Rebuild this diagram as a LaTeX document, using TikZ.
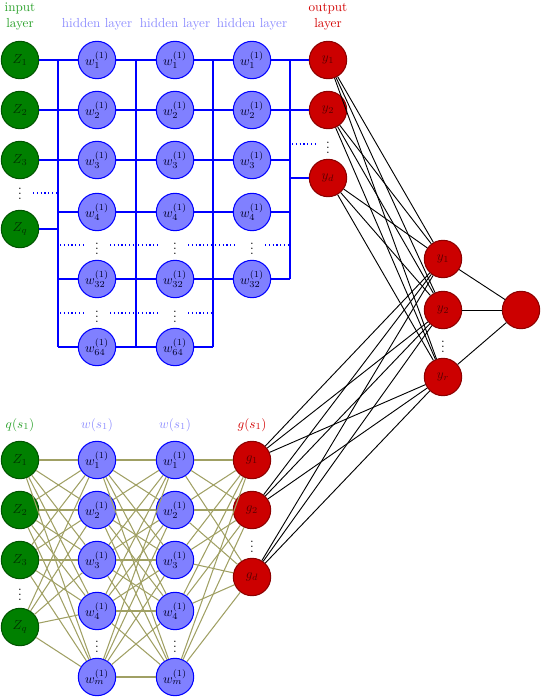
\documentclass[tikz,border=0pt]{standalone}
\usetikzlibrary{calc}
\definecolor{gfill}{RGB}{0,128,0}
\definecolor{gdraw}{RGB}{0,85,0}
\definecolor{ghead}{RGB}{40,160,40}
\definecolor{bfill}{RGB}{128,128,255}
\definecolor{bhead}{RGB}{140,140,255}
\definecolor{rfill}{RGB}{204,0,0}
\definecolor{rdraw}{RGB}{140,0,0}
\definecolor{rhead}{RGB}{210,0,0}
\definecolor{olv}{RGB}{160,160,100}
\begin{document}
\begin{tikzpicture}[x=0.7625pt,y=-0.7625pt,
  neuron/.style={circle,minimum size=28.5pt,inner sep=0pt,line width=0.8pt},
  inp/.style={neuron,fill=gfill,draw=gdraw,text=green!20!black},
  hid/.style={neuron,fill=bfill,draw=blue,text=blue!15!black},
  outp/.style={neuron,fill=rfill,draw=rdraw,text=red!35!black},
  bus/.style={blue,line width=1.1pt},
  dotln/.style={blue,dotted,line width=0.9pt},
  conn/.style={black,line width=0.7pt},
  oconn/.style={olv,line width=0.8pt},
  vd/.style={inner sep=0pt}]
\useasboundingbox (0,0) rectangle (540,698);

% ---------- headers ----------
\node[ghead,align=center,anchor=north,inner sep=0pt] (hin) at (20,3) {input\\layer};
\foreach \x/\n in {97/1,175/2,252/3}
  \node[bhead,anchor=base,inner sep=0pt] (hh\n) at (\x,28) {hidden layer};
\node[rhead,align=center,anchor=north,inner sep=0pt] (hout) at (328,3) {output\\layer};

% ---------- top network ----------
\foreach \n/\y/\l in {1/60/1,2/110/2,3/160/3,q/229/q}
  \node[inp] (ti\n) at (20,\y) {$Z_\l$};
\node[vd] (tiv) at (20,190) {$\vdots$};

\foreach \c/\x in {1/97,2/175,3/252}{
  \foreach \r/\y in {1/60,2/110,3/160,4/212,32/279}
    \node[hid] (th\c-\r) at (\x,\y) {$w_{\r}^{(1)}$};
  \node[vd] (thv\c a) at (\x,245) {$\vdots$};
}
\foreach \c/\x in {1/97,2/175}{
  \node[hid] (th\c-64) at (\x,347) {$w_{64}^{(1)}$};
  \node[vd] (thv\c b) at (\x,313) {$\vdots$};
}

\node[outp] (to1) at (328,60) {$y_1$};
\node[outp] (to2) at (328,110) {$y_2$};
\node[outp] (tod) at (328,178) {$y_d$};
\node[vd] (tov) at (328,144) {$\vdots$};

% bus coordinates
\coordinate (B1t) at (58,60);  \coordinate (B1b) at (58,347);
\coordinate (B2t) at (136,60); \coordinate (B2b) at (136,347);
\coordinate (B3t) at (213,60); \coordinate (B3b) at (213,347);
\coordinate (B4t) at (290,60); \coordinate (B4b) at (290,279);

\draw[bus] (B1t) -- (B1b);
\draw[bus] (B2t) -- (B2b);
\draw[bus] (B3t) -- (B3b);
\draw[bus] (B4t) -- (B4b);

\foreach \n in {1,2,3,q}
  \draw[bus] (ti\n.east) -- (ti\n.east -| B1t);
\foreach \r in {1,2,3,4,32,64}{
  \draw[bus] (B1t |- th1-\r.west) -- (th1-\r.west);
  \draw[bus] (th1-\r.east) -- (th1-\r.east -| B2t);
  \draw[bus] (B2t |- th2-\r.west) -- (th2-\r.west);
  \draw[bus] (th2-\r.east) -- (th2-\r.east -| B3t);
}
\foreach \r in {1,2,3,4,32}{
  \draw[bus] (B3t |- th3-\r.west) -- (th3-\r.west);
  \draw[bus] (th3-\r.east) -- (th3-\r.east -| B4t);
}
\foreach \n in {1,2,d}
  \draw[bus] (B4t |- to\n.west) -- (to\n.west);

% dotted stubs
\draw[dotln] (33,193) -- (56,193);
\foreach \a/\b in {60/83,110/134,138/160,188/211,215/237,265/288}
  \draw[dotln] (\a,245) -- (\b,245);
\foreach \a/\b in {60/83,110/134,138/160,188/211}
  \draw[dotln] (\a,313) -- (\b,313);
\draw[dotln] (292,144) -- (315,144);

% ---------- right part ----------
\node[outp] (r1) at (443,259) {$y_1$};
\node[outp] (r2) at (443,310) {$y_2$};
\node[outp] (rr) at (443,377) {$y_r$};
\node[vd] (rv) at (443,343) {$\vdots$};
\node[outp] (f) at (521,310) {};

% ---------- bottom network ----------
\node[ghead,anchor=base,inner sep=0pt] (bq) at (20,428) {$q(s_1)$};
\node[bhead,anchor=base,inner sep=0pt] (bw1) at (97,428) {$w(s_1)$};
\node[bhead,anchor=base,inner sep=0pt] (bw2) at (175,428) {$w(s_1)$};
\node[rhead,anchor=base,inner sep=0pt] (bg) at (252,428) {$g(s_1)$};

\foreach \n/\y/\l in {1/460/1,2/510/2,3/560/3,q/627/q}
  \node[inp] (bi\n) at (20,\y) {$Z_\l$};
\node[vd] (biv) at (20,591) {$\vdots$};

\foreach \c/\x in {1/97,2/175}{
  \foreach \r/\y in {1/460,2/510,3/560,4/611,m/677}
    \node[hid] (bh\c-\r) at (\x,\y) {$w_{\r}^{(1)}$};
  \node[vd] (bhv\c) at (\x,643) {$\vdots$};
}

\node[outp] (bo1) at (252,460) {$g_1$};
\node[outp] (bo2) at (252,510) {$g_2$};
\node[outp] (bod) at (252,577) {$g_d$};
\node[vd] (bov) at (252,543) {$\vdots$};

\foreach \a in {1,2,3,q}
  \foreach \b in {1,2,3,4,m}
    \draw[oconn] (bi\a) -- (bh1-\b);
\foreach \a in {1,2,3,4,m}
  \foreach \b in {1,2,3,4,m}
    \draw[oconn] (bh1-\a) -- (bh2-\b);
\foreach \a in {1,2,3,4,m}
  \foreach \b in {1,2,d}
    \draw[oconn] (bh2-\a) -- (bo\b);

% ---------- black connectors ----------
\foreach \s in {to1,to2,tod,bo1,bo2,bod}
  \foreach \t in {r1,r2,rr}
    \draw[conn] (\s) -- (\t);
\foreach \t in {r1,r2,rr}
  \draw[conn] (\t) -- (f);
\end{tikzpicture}
\end{document}
